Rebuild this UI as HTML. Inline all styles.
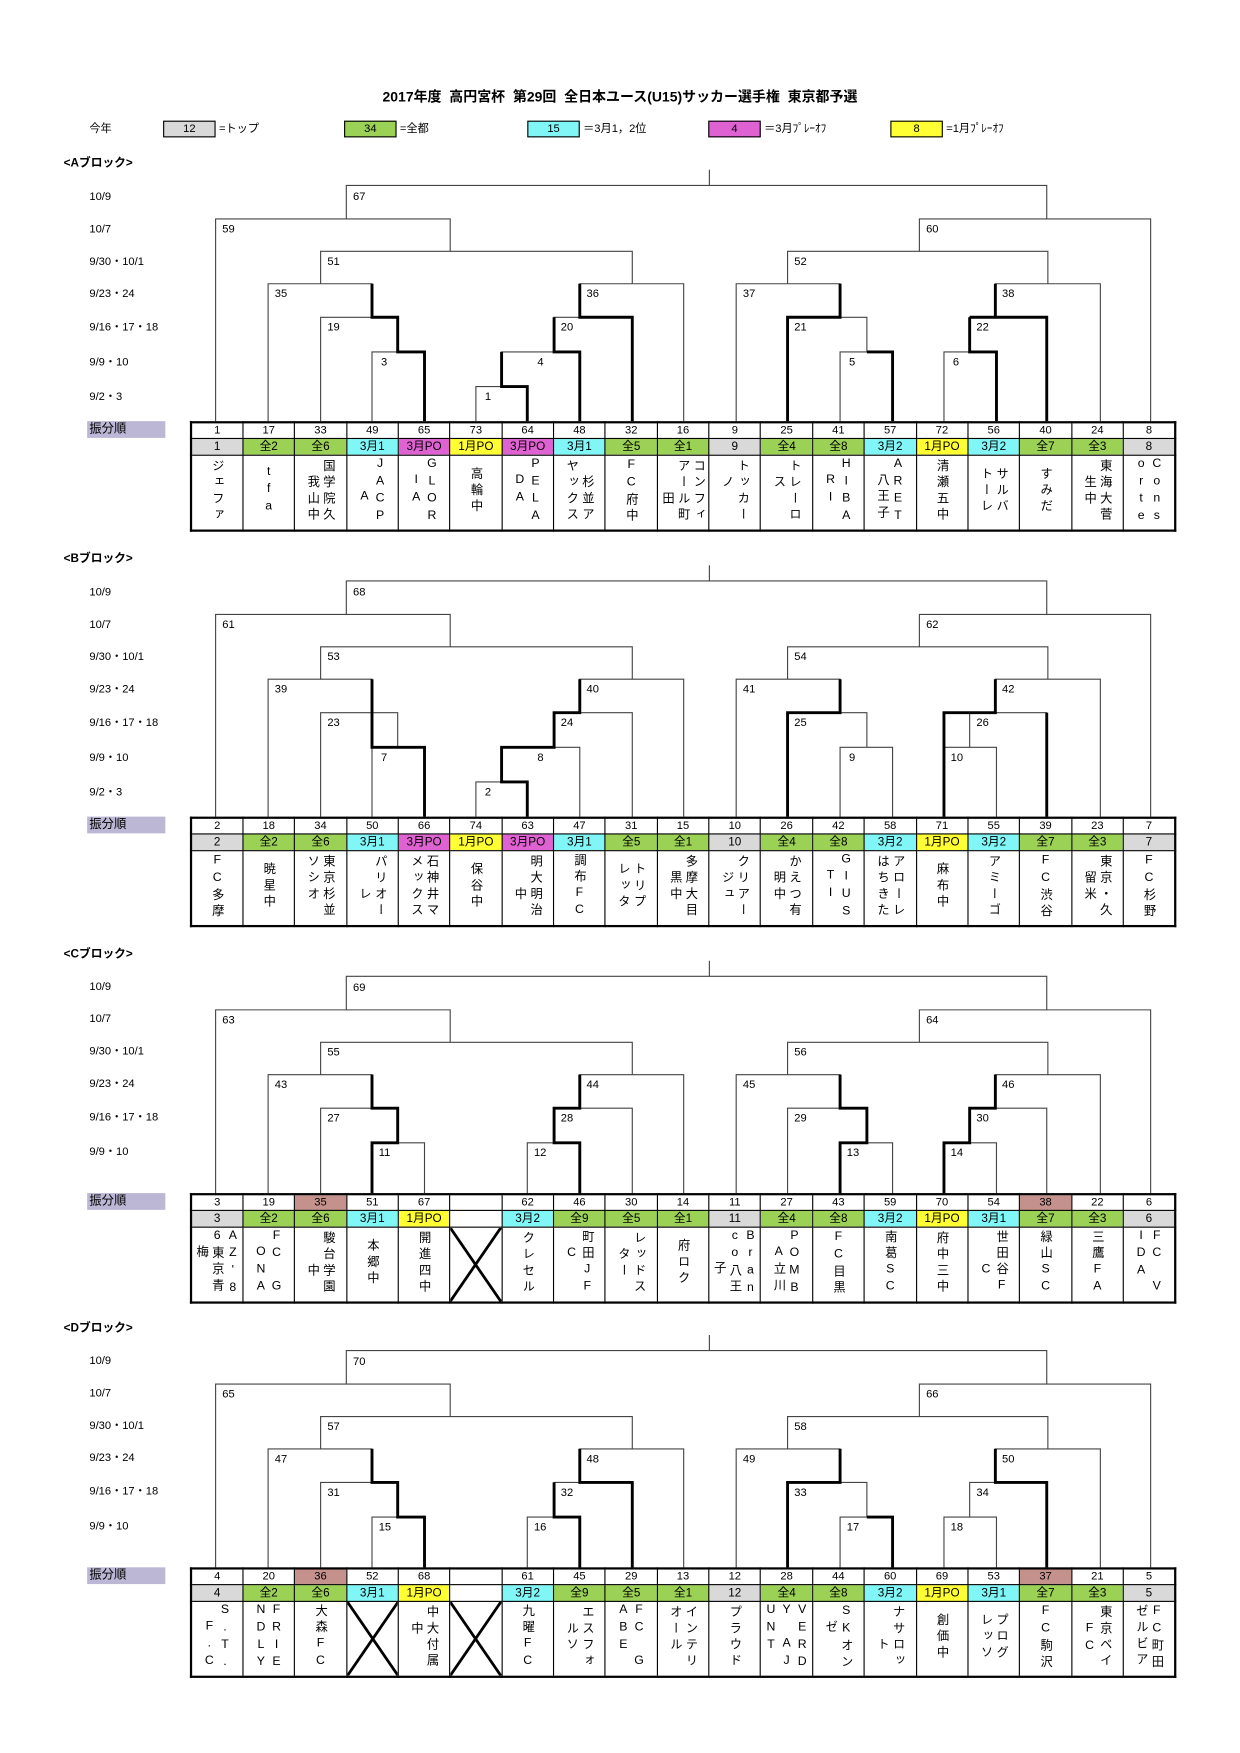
<!DOCTYPE html>
<html><head><meta charset="utf-8">
<style>
html,body{margin:0;padding:0;background:#fff;width:1240px;height:1753px;overflow:hidden}
#p{position:absolute;left:0;top:0;width:1110px;height:1569px;transform:scale(1.11712);transform-origin:0 0;font-family:"Liberation Sans","Noto Sans CJK JP",sans-serif;color:#000}
svg.b{position:absolute;left:0;top:0}
.t{position:absolute;left:170px;width:883px;border-collapse:collapse;table-layout:fixed;border:2px solid #000}
.t td{border:1.5px solid #000;padding:0;text-align:center;font-size:10px;overflow:hidden}
.t tr.r1 td{height:13px;line-height:13px;background:#fff}
.t tr.r2 td{height:14px;line-height:14px;font-size:10.5px}
.t tr.r3 td{height:66px;vertical-align:middle}
.t td span{display:inline-block;writing-mode:vertical-rl;text-orientation:upright;font-size:11px;line-height:14px;letter-spacing:3.5px;text-align:left}
.g{background:#d9d9d9}.G{background:#9bd155}.C{background:#80f6f6}.M{background:#df62d2}.Y{background:#ffff33}.B{background:#c4918d!important}
.t td.x{position:relative}
.t td.x svg{position:absolute;left:0;top:0;width:100%;height:100%}
.hdr{position:absolute;left:57px;font-size:10.5px;font-weight:bold}
.fb{position:absolute;left:78px;width:70px;height:15px;background:#bdb7d6;font-size:11px;line-height:15px;padding-left:2px;box-sizing:border-box}
.lg{position:absolute;top:108px;width:45px;height:13px;border:1.5px solid #000;font-size:10px;line-height:13px;text-align:center}
.lt{position:absolute;top:108px;font-size:10px;line-height:15px}
</style></head><body><div id="p">
<div style="position:absolute;left:0;width:1110px;top:76px;text-align:center;font-size:12.5px;font-weight:bold">2017年度&nbsp; 高円宮杯&nbsp; 第29回&nbsp; 全日本ユース(U15)サッカー選手権&nbsp; 東京都予選</div>
<div class="lt" style="left:80px">今年</div>
<div class="lg g" style="left:146px">12</div><div class="lt" style="left:196px">=トップ</div>
<div class="lg G" style="left:308px">34</div><div class="lt" style="left:358px">=全都</div>
<div class="lg C" style="left:472px">15</div><div class="lt" style="left:522px">＝3月1，2位</div>
<div class="lg M" style="left:634px">4</div><div class="lt" style="left:684px">＝3月ﾌﾟﾚｰｵﾌ</div>
<div class="lg Y" style="left:797px">8</div><div class="lt" style="left:847px">=1月ﾌﾟﾚｰｵﾌ</div>

<svg class="b" width="1110" height="1569" viewBox="0 0 1110 1569">
<defs>
<path id="pA" d="M310 196V166H937V196M193 377V196H403V225M287 254V225H566V254M240 377V254H333V284M287 377V284H356V315M333 377V315H380V377M519 284V254H612V377M496 315V284H566V377M449 346V315H519V377M426 377V346H472V377M823 225V196H1030V377M705 254V225H938V254M659 377V254H752V284M705 377V284H776V315M752 377V315H799V377M891 284V254H985V377M868 315V284H937V377M845 377V315H892V377M635 152V166"/>
<path id="pC" d="M310 196V166H937V196M193 360V196H403V225M287 254V225H566V254M240 360V254H333V284M287 360V284H356V315M333 360V315H380V360M519 284V254H612V360M496 315V284H566V360M472 360V315H519V360M823 225V196H1030V360M705 254V225H938V254M659 360V254H752V284M705 360V284H776V315M752 360V315H799V360M891 284V254H985V360M868 315V284H937V360M845 360V315H892V360M635 152V166"/>
</defs>
<g fill="none" stroke="#444" stroke-width="1">
<use href="#pA"/>
<use href="#pA" transform="translate(0,354)"/>
<use href="#pC" transform="translate(0,708)"/>
<use href="#pC" transform="translate(0,1043)"/>
</g>
<g fill="none" stroke="#000" stroke-width="2.6">
<path d="M333 254V284H356V315H380V377M519 254V284H566V377M449 315V346H472V377M496 284V315H519V377M752 254V284H705V377M776 315H799V377M891 254V284M868 284H937V377M868 284V315H892V377"/>
<path transform="translate(0,354)" d="M333 254V315H380V377M519 254V284H496V315H449V346H472V377M752 254V284H705V377M891 254V284H845V377M937 284V377"/>
<path transform="translate(0,708)" d="M333 254V284H356V315H333V360M519 254V284H496V315H519V360M752 254V284H776V315H752V360M891 254V284H868V315H845V360"/>
<path transform="translate(0,1043)" d="M333 254V284H356V315H380V360M519 254V284H566V360M496 284V315H519V360M752 254V284H705V360M776 315H799V360M891 254V284H937V360"/>
</g>
<g font-size="10" fill="#000" font-family="Liberation Sans, sans-serif">
<g>
<text x="316" y="179">67</text><text x="199" y="208">59</text><text x="829" y="208">60</text><text x="293" y="237">51</text><text x="711" y="237">52</text>
<text x="246" y="266">35</text><text x="525" y="266">36</text><text x="665" y="266">37</text><text x="897" y="266">38</text>
<text x="293" y="296">19</text><text x="502" y="296">20</text><text x="711" y="296">21</text><text x="874" y="296">22</text>
<text x="341" y="327">3</text><text x="481" y="327">4</text><text x="760" y="327">5</text><text x="853" y="327">6</text><text x="434" y="358">1</text>
</g>
<g transform="translate(0,354)">
<text x="316" y="179">68</text><text x="199" y="208">61</text><text x="829" y="208">62</text><text x="293" y="237">53</text><text x="711" y="237">54</text>
<text x="246" y="266">39</text><text x="525" y="266">40</text><text x="665" y="266">41</text><text x="897" y="266">42</text>
<text x="293" y="296">23</text><text x="502" y="296">24</text><text x="711" y="296">25</text><text x="874" y="296">26</text>
<text x="341" y="327">7</text><text x="481" y="327">8</text><text x="760" y="327">9</text><text x="851" y="327">10</text><text x="434" y="358">2</text>
</g>
<g transform="translate(0,708)">
<text x="316" y="179">69</text><text x="199" y="208">63</text><text x="829" y="208">64</text><text x="293" y="237">55</text><text x="711" y="237">56</text>
<text x="246" y="266">43</text><text x="525" y="266">44</text><text x="665" y="266">45</text><text x="897" y="266">46</text>
<text x="293" y="296">27</text><text x="502" y="296">28</text><text x="711" y="296">29</text><text x="874" y="296">30</text>
<text x="339" y="327">11</text><text x="478" y="327">12</text><text x="758" y="327">13</text><text x="851" y="327">14</text>
</g>
<g transform="translate(0,1043)">
<text x="316" y="179">70</text><text x="199" y="208">65</text><text x="829" y="208">66</text><text x="293" y="237">57</text><text x="711" y="237">58</text>
<text x="246" y="266">47</text><text x="525" y="266">48</text><text x="665" y="266">49</text><text x="897" y="266">50</text>
<text x="293" y="296">31</text><text x="502" y="296">32</text><text x="711" y="296">33</text><text x="874" y="296">34</text>
<text x="339" y="327">15</text><text x="478" y="327">16</text><text x="758" y="327">17</text><text x="851" y="327">18</text>
</g>
</g>
<g font-size="10" fill="#000" font-family="Liberation Sans, Noto Sans CJK JP, sans-serif">
<g><text x="80" y="179">10/9</text><text x="80" y="208">10/7</text><text x="80" y="237">9/30・10/1</text><text x="80" y="266">9/23・24</text><text x="80" y="296">9/16・17・18</text><text x="80" y="327">9/9・10</text><text x="80" y="358">9/2・3</text></g>
<g transform="translate(0,354)"><text x="80" y="179">10/9</text><text x="80" y="208">10/7</text><text x="80" y="237">9/30・10/1</text><text x="80" y="266">9/23・24</text><text x="80" y="296">9/16・17・18</text><text x="80" y="327">9/9・10</text><text x="80" y="358">9/2・3</text></g>
<g transform="translate(0,707)"><text x="80" y="179">10/9</text><text x="80" y="208">10/7</text><text x="80" y="237">9/30・10/1</text><text x="80" y="266">9/23・24</text><text x="80" y="296">9/16・17・18</text><text x="80" y="327">9/9・10</text></g>
<g transform="translate(0,1042)"><text x="80" y="179">10/9</text><text x="80" y="208">10/7</text><text x="80" y="237">9/30・10/1</text><text x="80" y="266">9/23・24</text><text x="80" y="296">9/16・17・18</text><text x="80" y="327">9/9・10</text></g>
</g>
</svg>

<div class="hdr" style="top:138px">&lt;Aブロック&gt;</div>
<div class="hdr" style="top:492px">&lt;Bブロック&gt;</div>
<div class="hdr" style="top:846px">&lt;Cブロック&gt;</div>
<div class="hdr" style="top:1181px">&lt;Dブロック&gt;</div>
<div class="fb" style="top:377px">振分順</div>
<div class="fb" style="top:731px">振分順</div>
<div class="fb" style="top:1068px">振分順</div>
<div class="fb" style="top:1403px">振分順</div>

<table class="t" style="top:377px">
<tr class="r1"><td>1</td><td>17</td><td>33</td><td>49</td><td>65</td><td>73</td><td>64</td><td>48</td><td>32</td><td>16</td><td>9</td><td>25</td><td>41</td><td>57</td><td>72</td><td>56</td><td>40</td><td>24</td><td>8</td></tr>
<tr class="r2"><td class="g">1</td><td class="G">全2</td><td class="G">全6</td><td class="C">3月1</td><td class="M">3月PO</td><td class="Y">1月PO</td><td class="M">3月PO</td><td class="C">3月1</td><td class="G">全5</td><td class="G">全1</td><td class="g">9</td><td class="G">全4</td><td class="G">全8</td><td class="C">3月2</td><td class="Y">1月PO</td><td class="C">3月2</td><td class="G">全7</td><td class="G">全3</td><td class="g">8</td></tr>
<tr class="r3"><td><span>ジェファ</span></td><td><span>tfa</span></td><td><span>国学院久<br>　我山中</span></td><td><span>JACP<br>　　A</span></td><td><span>GLOR<br>　IA</span></td><td><span>高輪中</span></td><td><span>PELA<br>　DA</span></td><td><span>　杉並ア<br>ヤックス</span></td><td><span>FC府中</span></td><td><span>コンフィ<br>アール町<br>　　田</span></td><td><span>トッカー<br>　ノ</span></td><td><span>トレーロ<br>　ス</span></td><td><span>HIBA<br>　RI</span></td><td><span>ARET<br>　八王子</span></td><td><span>清瀬五中</span></td><td><span>サルバ<br>トーレ</span></td><td><span>すみだ</span></td><td><span>東海大菅<br>　生中</span></td><td><span>Cons<br>orte</span></td></tr>
</table>

<table class="t" style="top:731px">
<tr class="r1"><td>2</td><td>18</td><td>34</td><td>50</td><td>66</td><td>74</td><td>63</td><td>47</td><td>31</td><td>15</td><td>10</td><td>26</td><td>42</td><td>58</td><td>71</td><td>55</td><td>39</td><td>23</td><td>7</td></tr>
<tr class="r2"><td class="g">2</td><td class="G">全2</td><td class="G">全6</td><td class="C">3月1</td><td class="M">3月PO</td><td class="Y">1月PO</td><td class="M">3月PO</td><td class="C">3月1</td><td class="G">全5</td><td class="G">全1</td><td class="g">10</td><td class="G">全4</td><td class="G">全8</td><td class="C">3月2</td><td class="Y">1月PO</td><td class="C">3月2</td><td class="G">全7</td><td class="G">全3</td><td class="g">7</td></tr>
<tr class="r3"><td><span>FC多摩</span></td><td><span>暁星中</span></td><td><span>東京杉並<br>ソシオ</span></td><td><span>パリオー<br>　　レ</span></td><td><span>石神井マ<br>メックス</span></td><td><span>保谷中</span></td><td><span>明大明治<br>　　中</span></td><td><span>調布FC</span></td><td><span>トリプ<br>レッタ</span></td><td><span>多摩大目<br>　黒中</span></td><td><span>クリアー<br>　ジュ</span></td><td><span>かえつ有<br>　明中</span></td><td><span>GIUS<br>　TI</span></td><td><span>アローレ<br>はちきた</span></td><td><span>麻布中</span></td><td><span>アミーゴ</span></td><td><span>FC渋谷</span></td><td><span>東京・久<br>　留米</span></td><td><span>FC杉野</span></td></tr>
</table>

<table class="t" style="top:1068px">
<tr class="r1"><td>3</td><td>19</td><td class="B">35</td><td>51</td><td>67</td><td></td><td>62</td><td>46</td><td>30</td><td>14</td><td>11</td><td>27</td><td>43</td><td>59</td><td>70</td><td>54</td><td class="B">38</td><td>22</td><td>6</td></tr>
<tr class="r2"><td class="g">3</td><td class="G">全2</td><td class="G">全6</td><td class="C">3月1</td><td class="Y">1月PO</td><td></td><td class="C">3月2</td><td class="G">全9</td><td class="G">全5</td><td class="G">全1</td><td class="g">11</td><td class="G">全4</td><td class="G">全8</td><td class="C">3月2</td><td class="Y">1月PO</td><td class="C">3月1</td><td class="G">全7</td><td class="G">全3</td><td class="g">6</td></tr>
<tr class="r3"><td><span>AZ'8<br>6東京青<br>　梅</span></td><td><span>FC　G<br>　ONA</span></td><td><span>駿台学園<br>　　中</span></td><td><span>本郷中</span></td><td><span>開進四中</span></td><td class="x"><svg viewBox="0 0 10 10" preserveAspectRatio="none"><path d="M0 0L10 10M10 0L0 10" stroke="#000" stroke-width="2.5" vector-effect="non-scaling-stroke"/></svg></td><td><span>クレセル</span></td><td><span>町田JF<br>　C</span></td><td><span>レッドス<br>　ター</span></td><td><span>府ロク</span></td><td><span>Bran<br>co八王<br>　　子</span></td><td><span>POMB<br>　A立川</span></td><td><span>FC目黒</span></td><td><span>南葛SC</span></td><td><span>府中三中</span></td><td><span>世田谷F<br>　　C</span></td><td><span>緑山SC</span></td><td><span>三鷹FA</span></td><td><span>FC　V<br>IDA</span></td></tr>
</table>

<table class="t" style="top:1403px">
<tr class="r1"><td>4</td><td>20</td><td class="B">36</td><td>52</td><td>68</td><td></td><td>61</td><td>45</td><td>29</td><td>13</td><td>12</td><td>28</td><td>44</td><td>60</td><td>69</td><td>53</td><td class="B">37</td><td>21</td><td>5</td></tr>
<tr class="r2"><td class="g">4</td><td class="G">全2</td><td class="G">全6</td><td class="C">3月1</td><td class="Y">1月PO</td><td></td><td class="C">3月2</td><td class="G">全9</td><td class="G">全5</td><td class="G">全1</td><td class="g">12</td><td class="G">全4</td><td class="G">全8</td><td class="C">3月2</td><td class="Y">1月PO</td><td class="C">3月1</td><td class="G">全7</td><td class="G">全3</td><td class="g">5</td></tr>
<tr class="r3"><td><span>S.T.<br>　F.C</span></td><td><span>FRIE<br>NDLY</span></td><td><span>大森FC</span></td><td class="x"><svg viewBox="0 0 10 10" preserveAspectRatio="none"><path d="M0 0L10 10M10 0L0 10" stroke="#000" stroke-width="2.5" vector-effect="non-scaling-stroke"/></svg></td><td><span>中大付属<br>　中</span></td><td class="x"><svg viewBox="0 0 10 10" preserveAspectRatio="none"><path d="M0 0L10 10M10 0L0 10" stroke="#000" stroke-width="2.5" vector-effect="non-scaling-stroke"/></svg></td><td><span>九曜FC</span></td><td><span>エスフォ<br>　ルソ</span></td><td><span>FC　G<br>ABE</span></td><td><span>インテリ<br>オール</span></td><td><span>プラウド</span></td><td><span>VERD<br>Y　AJ<br>UNT</span></td><td><span>SKオン<br>　ゼ</span></td><td><span>ナサロッ<br>　　ト</span></td><td><span>創価中</span></td><td><span>プログ<br>レッソ</span></td><td><span>FC駒沢</span></td><td><span>東京ベイ<br>　FC</span></td><td><span>FC町田<br>ゼルビア</span></td></tr>
</table>
</div></body></html>
